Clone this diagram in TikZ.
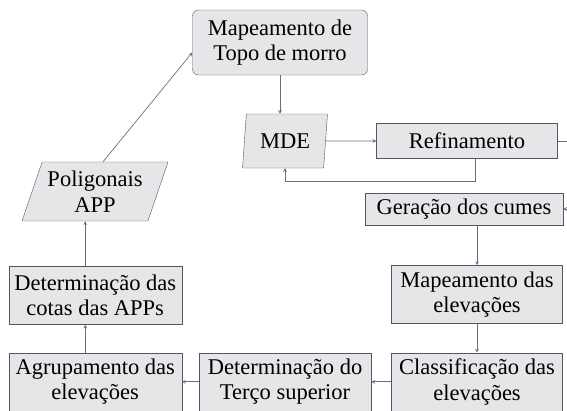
\documentclass[tikz,border=0pt]{standalone}
\usepackage{fontspec}
\setmainfont{Liberation Serif}
\usetikzlibrary{shapes,arrows,positioning}
\definecolor{boxfill}{HTML}{E6E6E9}
\definecolor{boxline}{HTML}{55556A}
\definecolor{wire}{HTML}{6E6E78}

\begin{document}
\begin{tikzpicture}[
    x=1pt, y=-1pt,
    every node/.style={font=\rmfamily\fontsize{22.5}{25.5}\selectfont},
    stepbox/.style={rectangle, draw=boxline, fill=boxfill, align=center, inner sep=2pt, minimum width=172pt, minimum height=58pt},
    databox/.style={trapezium, trapezium stretches body, draw=boxline, fill=boxfill, align=center, inner sep=1pt},
    arrow/.style={->, >=stealth, draw=wire, line width=0.7pt}
]
\useasboundingbox (0,0) rectangle (567,410);

% upper part
\node[stepbox, rounded corners=6pt, minimum width=175pt, minimum height=65pt] (topo) at (280,42.5) {Mapeamento de\\Topo de morro};
\node[databox, trapezium left angle=77, trapezium right angle=103, minimum width=85pt, minimum height=54pt] (mde) at (285,141) {MDE};
\node[stepbox, minimum width=181pt, minimum height=35pt] (refin) at (467,141) {Refinamento};
\node[stepbox, minimum width=198pt, minimum height=32pt] (ger) at (464,209) {Geração dos cumes};

% right column and bottom row
\node[stepbox, minimum width=171pt, below=40pt of ger, xshift=13pt] (mapel) {Mapeamento das\\elevações};
\node[stepbox, minimum width=171pt, below=29pt of mapel] (class) {Classificação das\\elevações};
\node[stepbox, left=20pt of class] (terco) {Determinação do\\Terço superior};
\node[stepbox, minimum width=173pt, left=17pt of terco] (agrup) {Agrupamento das\\elevações};

% left column
\node[stepbox, minimum width=173pt, above=28pt of agrup] (cotas) {Determinação das\\cotas das APPs};
\node[databox, trapezium left angle=65, trapezium right angle=115, minimum width=146pt, minimum height=59pt] (polig) at (95,191.5) {Poligonais\\APP};

% connectors
\draw[arrow] (topo.south) -- (topo.south |- mde.north);
\draw[arrow] (mde.east) -- (refin.west);
\draw[arrow] ([xshift=8pt]refin.south) -- ++(0,23) -| (mde.south);
\draw[arrow] (refin.east) -- ++(20,0) |- (ger.east);
\draw[arrow] (ger.south -| mapel.north) -- (mapel.north);
\draw[arrow] (mapel) -- (class);
\draw[arrow] (class) -- (terco);
\draw[arrow] (terco) -- (agrup);
\draw[arrow] ([xshift=-10pt]agrup.north) -- ([xshift=-10pt]cotas.south);
\draw[arrow] ([xshift=-10pt]cotas.north) -- ([xshift=-10pt]cotas.north |- polig.south);
\draw[arrow] ([xshift=8pt]polig.north) -- ([yshift=-10pt]topo.west);

\end{tikzpicture}
\end{document}
